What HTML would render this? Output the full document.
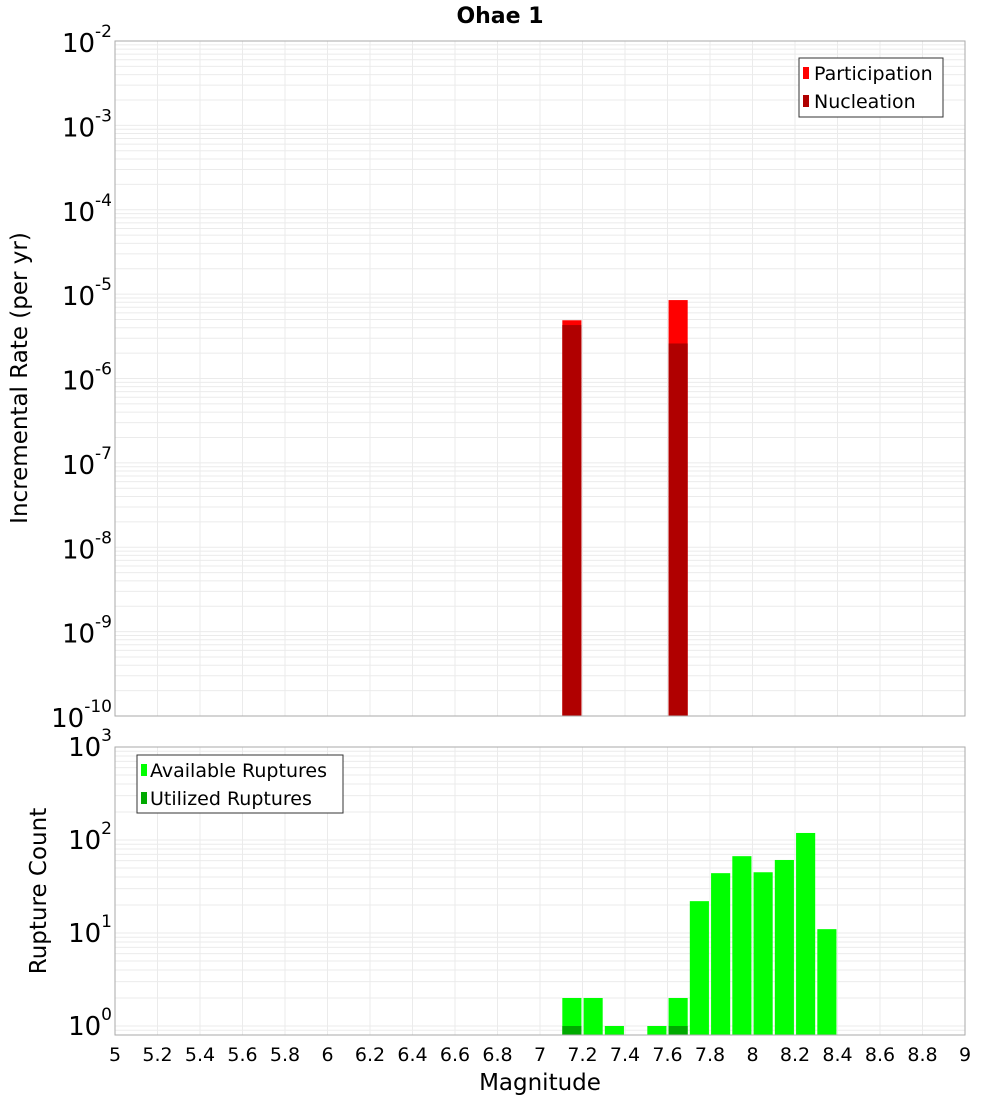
<!DOCTYPE html>
<html><head><meta charset="utf-8"><style>
body{margin:0;background:#fff;}
svg{display:block;font-family:"DejaVu Sans","Liberation Sans",sans-serif;}
</style></head><body>
<svg id="c" width="1000" height="1100" viewBox="0 0 1000 1100">
<text x="500" y="23" text-anchor="middle" font-size="22" font-weight="bold">Ohae 1</text>
<text transform="translate(27,378) rotate(-90)" text-anchor="middle" font-size="23">Incremental Rate (per yr)</text>
<text transform="translate(46,891) rotate(-90)" text-anchor="middle" font-size="23">Rupture Count</text>
<text x="540" y="1090" text-anchor="middle" font-size="23">Magnitude</text>
<g id="grid"></g><g id="bars"></g><g id="axes"></g>
<g>
<rect x="799" y="58" width="144" height="59" fill="#fff" stroke="#333" stroke-width="1"/>
<rect x="803" y="67" width="6" height="12" fill="#ff0000"/>
<text x="814" y="80" font-size="19">Participation</text>
<rect x="803" y="95" width="6" height="12" fill="#b00000"/>
<text x="814" y="108" font-size="19">Nucleation</text>
</g>
<g>
<rect x="137" y="755" width="206" height="58" fill="#fff" stroke="#333" stroke-width="1"/>
<rect x="141" y="764" width="6" height="12" fill="#00ff00"/>
<text x="150" y="777" font-size="19">Available Ruptures</text>
<rect x="141" y="792" width="6" height="12" fill="#00aa00"/>
<text x="150" y="805" font-size="19">Utilized Ruptures</text>
</g>
</svg>
<script>
const topMags=[7.15,7.65];
const participation=[4.9e-6,8.5e-6];
const nucleation=[4.3e-6,2.6e-6];
const botMags=[7.15,7.25,7.35,7.55,7.65,7.75,7.85,7.95,8.05,8.15,8.25,8.35];
const available=[2,2,1,1,2,22,44,67,45,61,119,11];
const utilMags=[7.15,7.65];
const utilized=[1,1];
const xTicks=[5,5.2,5.4,5.6,5.8,6,6.2,6.4,6.6,6.8,7,7.2,7.4,7.6,7.8,8,8.2,8.4,8.6,8.8,9];
const topExps=[-2,-3,-4,-5,-6,-7,-8,-9,-10];
const botExps=[3,2,1,0];

const NS='http://www.w3.org/2000/svg';
const X0=115,X1=965;
const x=m=>X0+(m-5)/4*(X1-X0);
const T0=41,T1=716;
const yT=v=>T0+(-2-Math.log10(v))/8*(T1-T0);
const B0=747,BD=93;
const yB=v=>B0+(3-Math.log10(v))*BD;
const B1=1035;
function el(p,t,a){const e=document.createElementNS(NS,t);for(const k in a)e.setAttribute(k,a[k]);document.getElementById(p).appendChild(e);return e;}

for(const t of xTicks){
  let g=el('grid','line',{x1:x(t),x2:x(t),y1:T0,y2:T1,stroke:'#ebebeb'});
  
  
  let h=el('grid','line',{x1:x(t),x2:x(t),y1:B0,y2:B1,stroke:'#ebebeb'});
  
  
}
for(let e=-10;e<-2;e++)for(let k=1;k<10;k++){
  const yy=yT(k*Math.pow(10,e));
  const g=el('grid','line',{x1:X0,x2:X1,y1:yy,y2:yy,stroke:'#ebebeb'});
  
  
}
for(let e=-1;e<3;e++)for(let k=1;k<10;k++){
  const yy=yB(k*Math.pow(10,e));
  if(yy>B1||yy<B0)continue;
  const g=el('grid','line',{x1:X0,x2:X1,y1:yy,y2:yy,stroke:'#ebebeb'});
  
  
}
const bw=0.09;
const bpx=bw/4*(X1-X0);
topMags.forEach((m,i)=>{
  const r=el('bars','rect',{x:x(m-bw/2),width:bpx,y:yT(participation[i]),height:T1-yT(participation[i]),fill:'#ff0000'});
  
  
  const n=el('bars','rect',{x:x(m-bw/2),width:bpx,y:yT(nucleation[i]),height:T1-yT(nucleation[i]),fill:'#b00000'});
  
  
});
botMags.forEach((m,i)=>{
  const r=el('bars','rect',{x:x(m-bw/2),width:bpx,y:yB(available[i]),height:B1-yB(available[i]),fill:'#00ff00'});
  
  
});
utilMags.forEach((m,i)=>{
  const r=el('bars','rect',{x:x(m-bw/2),width:bpx,y:yB(utilized[i]),height:B1-yB(utilized[i]),fill:'#00aa00'});
  
  
});
let f=el('axes','rect',{x:X0,y:T0,width:X1-X0,height:T1-T0,fill:'none',stroke:'#aaa'});


f=el('axes','rect',{x:X0,y:B0,width:X1-X0,height:B1-B0,fill:'none',stroke:'#aaa'});


function expLabel(yy,e,name){
  const t=el('axes','text',{x:112,y:yy+11,'text-anchor':'end','font-size':'26'});
  
  
  t.textContent='10';
  const s=document.createElementNS(NS,'tspan');
  s.setAttribute('dy','-15');s.setAttribute('font-size','17');
  s.textContent=String(e);
  t.appendChild(s);
}
topExps.forEach(e=>expLabel(yT(Math.pow(10,e)),e,'top-y-tick-label'));
botExps.forEach(e=>expLabel(yB(Math.pow(10,e))-2,e,'bottom-y-tick-label'));
xTicks.forEach(t=>{
  const l=el('axes','text',{x:x(t),y:1061,'text-anchor':'middle','font-size':'19'});
  
  
  l.textContent=String(t);
});
</script>
</body></html>
